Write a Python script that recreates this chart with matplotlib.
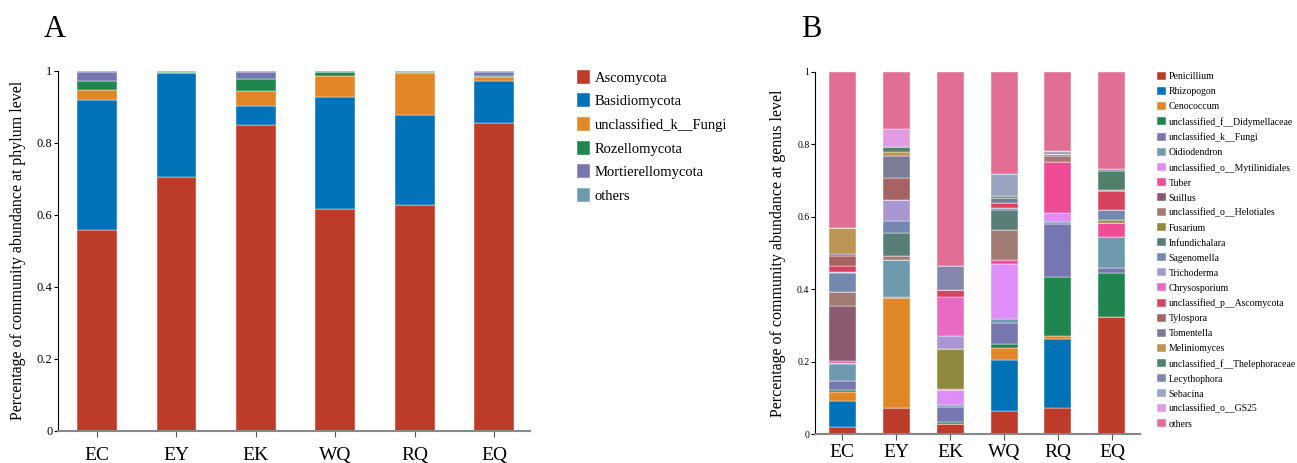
import numpy as np
import matplotlib
matplotlib.use("Agg")
import matplotlib.pyplot as plt

plt.rcParams['font.family'] = ['Liberation Serif', 'DejaVu Serif']

# Panel A data (phylum level)
samples_a = ["EC", "EY", "EK", "WQ", "RQ", "EQ"]
phyla = ["Ascomycota", "Basidiomycota", "unclassified_k__Fungi",
         "Rozellomycota", "Mortierellomycota", "others"]
phylum_colors = ["#BC3C29", "#0072B5", "#E18727", "#20854E", "#7876B1", "#6F99AD"]

ascomycota    = [0.559, 0.706, 0.849, 0.617, 0.627, 0.855]
basidiomycota = [0.361, 0.287, 0.054, 0.310, 0.250, 0.117]
unc_fungi_a   = [0.026, 0.002, 0.042, 0.060, 0.118, 0.011]
rozellomycota = [0.025, 0.001, 0.032, 0.009, 0.001, 0.002]
mortierello   = [0.026, 0.001, 0.021, 0.002, 0.002, 0.012]
others_a      = [0.003, 0.003, 0.002, 0.002, 0.002, 0.003]

# Panel B data (genus level)
samples_b = ["EC", "EY", "EK", "WQ", "RQ", "EQ"]
genera = ["Penicillium", "Rhizopogon", "Cenococcum", "unclassified_f__Didymellaceae",
          "unclassified_k__Fungi", "Oidiodendron", "unclassified_o__Mytilinidiales",
          "Tuber", "Suillus", "unclassified_o__Helotiales", "Fusarium", "Infundichalara",
          "Sagenomella", "Trichoderma", "Chrysosporium", "unclassified_p__Ascomycota",
          "Tylospora", "Tomentella", "Meliniomyces", "unclassified_f__Thelephoraceae",
          "Lecythophora", "Sebacina", "unclassified_o__GS25", "others"]
genus_colors = ["#BC3C29", "#0072B5", "#E18727", "#20854E", "#7876B1", "#6F99AD",
                "#DD8EF8", "#EE4C97", "#8C5A6E", "#A27B72", "#8F8A3D", "#587E78",
                "#7489B0", "#A897D2", "#E96AC3", "#D7425F", "#A66364", "#7C7C98",
                "#BC9556", "#4F8268", "#8387AE", "#9CA3C3", "#E19CE3", "#E16F95"]

penicillium   = [0.019, 0.072, 0.028, 0.064, 0.072, 0.324]
rhizopogon    = [0.073, 0.000, 0.000, 0.141, 0.191, 0.000]
cenococcum    = [0.024, 0.303, 0.000, 0.034, 0.008, 0.000]
didymellaceae = [0.005, 0.002, 0.006, 0.009, 0.162, 0.122]
unc_fungi_b   = [0.027, 0.002, 0.042, 0.060, 0.146, 0.013]
oidiodendron  = [0.047, 0.103, 0.006, 0.010, 0.006, 0.084]
mytilinidiales = [0.002, 0.000, 0.041, 0.152, 0.025, 0.000]
tuber         = [0.006, 0.000, 0.000, 0.011, 0.140, 0.039]
suillus       = [0.150, 0.000, 0.000, 0.000, 0.000, 0.000]
helotiales    = [0.039, 0.011, 0.002, 0.083, 0.017, 0.000]
fusarium      = [0.000, 0.000, 0.110, 0.000, 0.005, 0.008]
infundichalara = [0.000, 0.062, 0.000, 0.055, 0.000, 0.000]
sagenomella   = [0.053, 0.033, 0.000, 0.005, 0.000, 0.028]
trichoderma   = [0.004, 0.057, 0.037, 0.000, 0.000, 0.000]
chrysosporium = [0.000, 0.000, 0.107, 0.000, 0.000, 0.000]
unc_ascomycota = [0.014, 0.000, 0.020, 0.014, 0.000, 0.052]
tylospora     = [0.030, 0.062, 0.000, 0.000, 0.000, 0.000]
tomentella    = [0.004, 0.062, 0.000, 0.014, 0.006, 0.005]
meliniomyces  = [0.071, 0.011, 0.000, 0.000, 0.004, 0.000]
thelephoraceae = [0.000, 0.012, 0.000, 0.006, 0.000, 0.050]
lecythophora  = [0.000, 0.000, 0.064, 0.000, 0.000, 0.007]
sebacina      = [0.000, 0.000, 0.000, 0.060, 0.000, 0.000]
gs25          = [0.000, 0.050, 0.000, 0.000, 0.000, 0.000]
others_b      = [0.432, 0.158, 0.537, 0.282, 0.218, 0.268]

phylum_values = [ascomycota, basidiomycota, unc_fungi_a, rozellomycota, mortierello, others_a]
genus_values = [penicillium, rhizopogon, cenococcum, didymellaceae, unc_fungi_b, oidiodendron,
                mytilinidiales, tuber, suillus, helotiales, fusarium, infundichalara,
                sagenomella, trichoderma, chrysosporium, unc_ascomycota, tylospora, tomentella,
                meliniomyces, thelephoraceae, lecythophora, sebacina, gs25, others_b]


def stacked(ax, samples, names, values, colors, pad):
    x = np.arange(len(samples))
    bottom = np.zeros(len(samples))
    for name, vals, col in zip(names, values, colors):
        vals = np.array(vals)
        ax.bar(x, vals, 0.5, bottom=bottom, color=col, label=name,
               edgecolor="white", linewidth=0.3)
        bottom += vals
    ax.set_xticks(x)
    ax.set_xticklabels(samples, fontsize=14)
    ax.set_ylim(0, 1)
    ax.set_yticks([0, 0.2, 0.4, 0.6, 0.8, 1])
    ax.set_yticklabels(["0", "0.2", "0.4", "0.6", "0.8", "1"])
    for s in ["top", "right"]:
        ax.spines[s].set_visible(False)
    ax.spines["left"].set_linewidth(0.8)
    ax.spines["bottom"].set_color("#888888")
    ax.spines["bottom"].set_linewidth(1.5)
    ax.tick_params(axis="x", length=4, pad=pad, color="#555555")
    ax.tick_params(axis="y", length=3, width=0.8, pad=1)


fig = plt.figure(figsize=(12.97, 4.63), dpi=100)

# Panel A
ax1 = fig.add_axes([0.0447, 0.0698, 0.364, 0.777])
stacked(ax1, samples_a, phyla, phylum_values, phylum_colors, 8)
ax1.set_xlim(-0.49, 5.45)
ax1.tick_params(axis="y", labelsize=9)
ax1.set_ylabel("Percentage of community abundance at phylum level", fontsize=11.5, labelpad=8)
ax1.legend(loc="upper left", bbox_to_anchor=(1.087, 1.02), frameon=False, fontsize=10.5,
           handlelength=0.9, handleheight=1.1, handletextpad=0.3, labelspacing=0.6,
           borderaxespad=0)
fig.text(0.034, 0.92, "A", fontsize=22)

# Panel B
ax2 = fig.add_axes([0.6284, 0.062, 0.2506, 0.783])
stacked(ax2, samples_b, genera, genus_values, genus_colors, 3)
ax2.set_xlim(-0.5, 5.52)
ax2.tick_params(axis="y", labelsize=7)
ax2.set_ylabel("Percentage of community abundance at genus level", fontsize=11.5, labelpad=8)
ax2.legend(loc="upper left", bbox_to_anchor=(1.04, 1.01), frameon=False, fontsize=7,
           handlelength=0.9, handleheight=0.9, handletextpad=0.3, labelspacing=0.58,
           borderaxespad=0)
fig.text(0.618, 0.92, "B", fontsize=22)

fig.savefig("out.png", dpi=100)
